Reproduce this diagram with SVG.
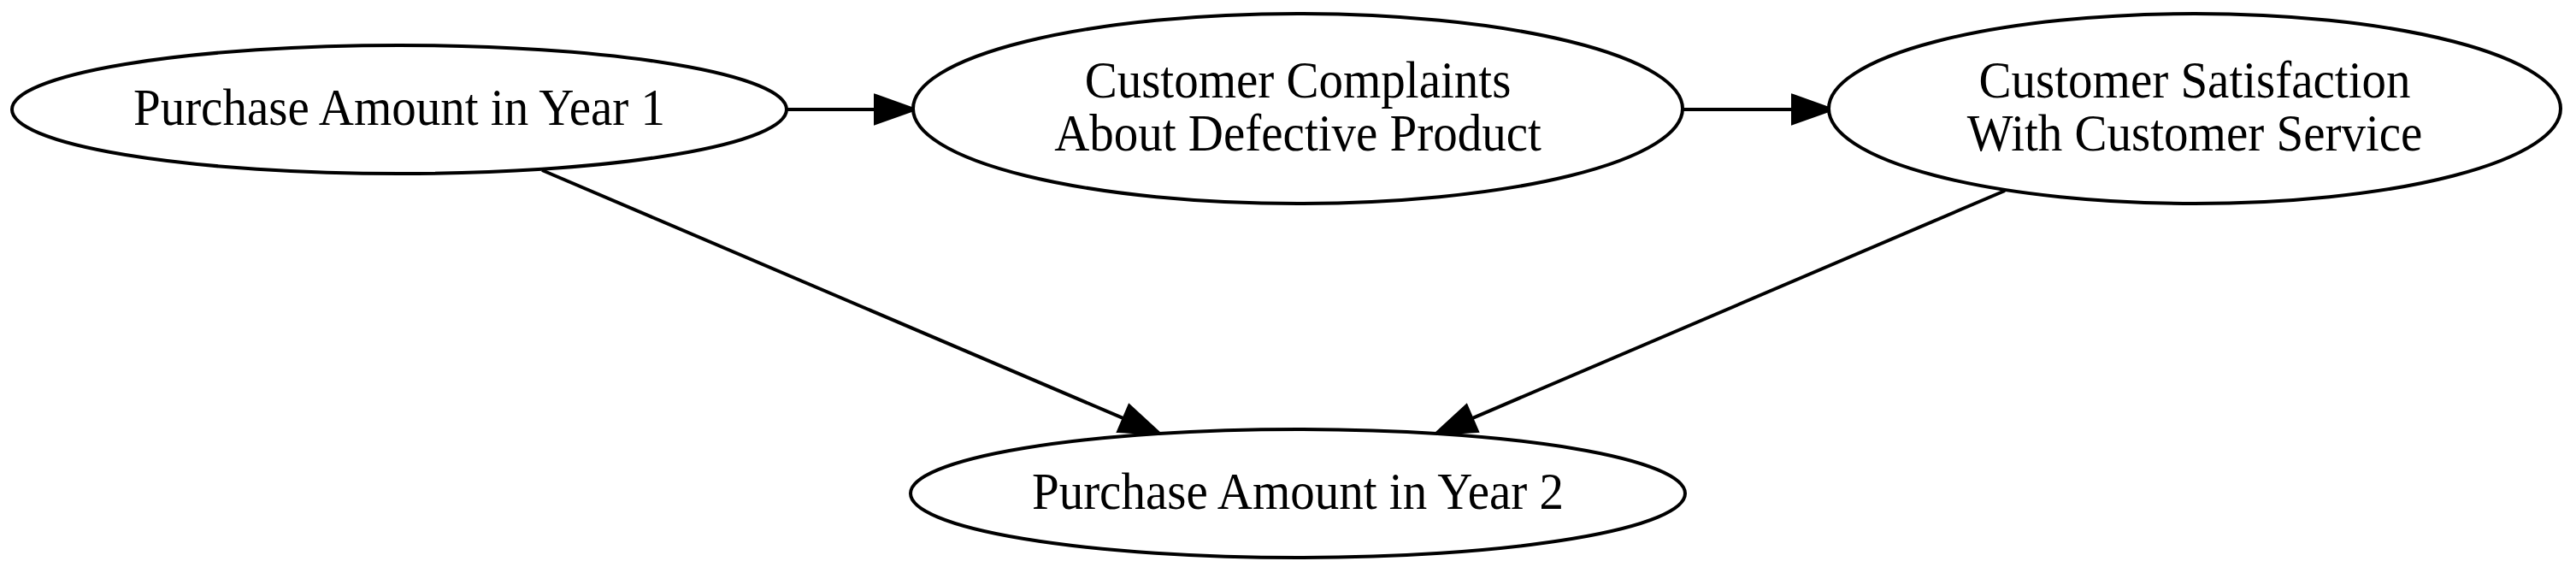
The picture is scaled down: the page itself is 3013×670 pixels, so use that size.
<svg xmlns="http://www.w3.org/2000/svg" width="3013" height="670" viewBox="0 0 3013 670">
<style>
.n ellipse{fill:#fff;stroke:#000;stroke-width:4}
.n text{font-family:"Liberation Serif","Times New Roman",serif;font-size:57px;text-anchor:middle;fill:#000}
.e line{stroke:#000;stroke-width:4}
.e polygon{fill:#000;stroke:#000;stroke-width:4;stroke-linejoin:miter}
</style>
<rect width="3013" height="670" fill="#fff"/>
<g id="edges" class="e">
<line x1="920" y1="128" x2="1024" y2="128"/>
<polygon points="1024,112 1069,128 1024,144"/>
<line x1="1968" y1="128" x2="2097" y2="128"/>
<polygon points="2097,112 2142,128 2097,144"/>
<line x1="634" y1="199" x2="1314.6" y2="489.4"/>
<polygon points="1308.3,504.1 1356,507 1320.9,474.7"/>
<line x1="2345" y1="223" x2="1721.4" y2="489.3"/>
<polygon points="1727.7,504 1680,507 1715.1,474.6"/>
</g>
<g id="node1" class="n">
<ellipse cx="467" cy="128" rx="453" ry="75"/>
<text transform="translate(467,146) scale(1,1.08)">Purchase Amount in Year 1</text>
</g>
<g id="node2" class="n">
<ellipse cx="1518" cy="127" rx="450" ry="111"/>
<text transform="translate(1518,114) scale(1,1.08)">Customer Complaints</text>
<text transform="translate(1518,176) scale(1,1.08)">About Defective Product</text>
</g>
<g id="node3" class="n">
<ellipse cx="2567" cy="127" rx="428" ry="111"/>
<text transform="translate(2567,114) scale(1,1.08)">Customer Satisfaction</text>
<text transform="translate(2567,176) scale(1,1.08)">With Customer Service</text>
</g>
<g id="node4" class="n">
<ellipse cx="1518" cy="577" rx="453" ry="75"/>
<text transform="translate(1518,595) scale(1,1.08)">Purchase Amount in Year 2</text>
</g>
</svg>
